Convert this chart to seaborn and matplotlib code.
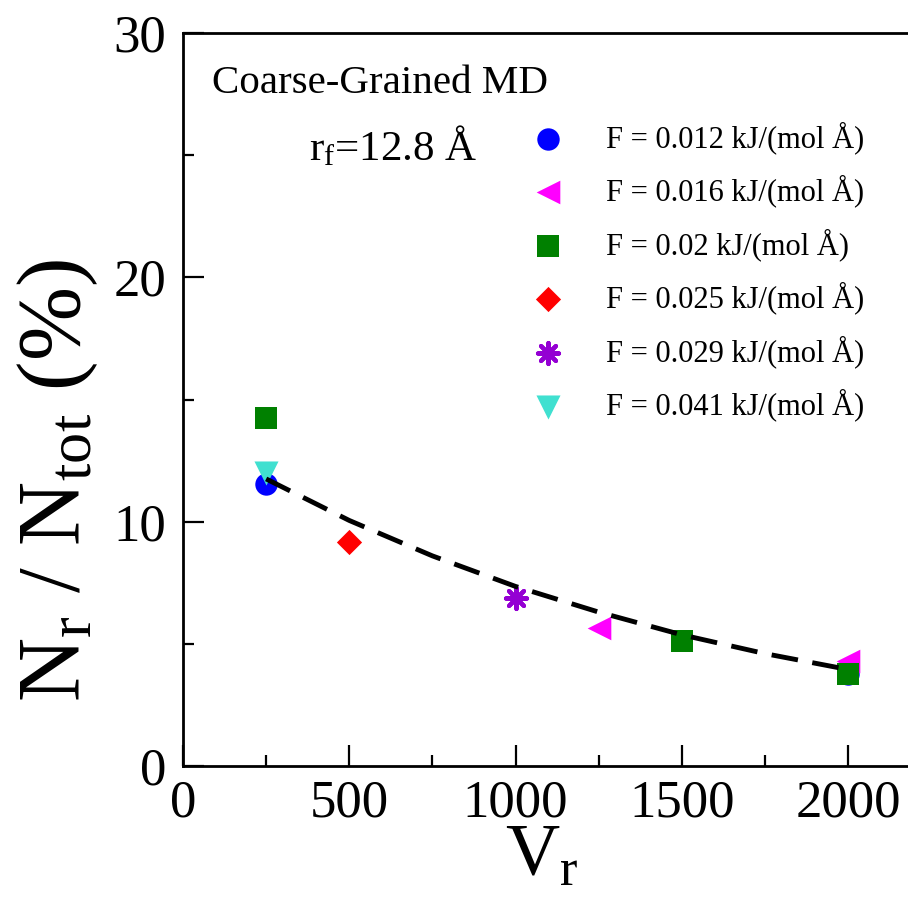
import matplotlib
matplotlib.use("Agg")
import matplotlib.pyplot as plt
import seaborn as sns
from matplotlib.ticker import MultipleLocator

# values
V_012 = [250, 2000]
N_012 = [11.55, 3.75]
V_016 = [1250, 2000]
N_016 = [5.65, 4.3]
V_020 = [250, 1500, 2000]
N_020 = [14.25, 5.1, 3.77]
V_025 = [500]
N_025 = [9.17]
V_029 = [1000]
N_029 = [6.88]
V_041 = [250]
N_041 = [12.0]

# dashed fit curve
fit_V = [250, 500, 750, 1000, 1250, 1500, 1750, 2000]
fit_N = [11.75, 10.05, 8.6, 7.35, 6.3, 5.37, 4.6, 3.95]

labels = ["F = 0.012 kJ/(mol Å)", "F = 0.016 kJ/(mol Å)", "F = 0.02 kJ/(mol Å)",
          "F = 0.025 kJ/(mol Å)", "F = 0.029 kJ/(mol Å)", "F = 0.041 kJ/(mol Å)"]

sns.set_style("ticks")
plt.rcParams["font.family"] = ["Liberation Serif", "DejaVu Serif"]
plt.rcParams["mathtext.fontset"] = "custom"
plt.rcParams["mathtext.rm"] = "Liberation Serif"
plt.rcParams["mathtext.it"] = "Liberation Serif:italic"
for key in ["text.color", "axes.labelcolor", "xtick.color", "ytick.color", "axes.edgecolor"]:
    plt.rcParams[key] = "black"

fig = plt.figure(figsize=(9.08, 9.15), dpi=100)
ax = fig.add_axes([183 / 908, 149 / 915, 731.5 / 908, 733 / 915])

# scatter series (one call per series so the asterisk can be a line marker)
sns.scatterplot(x=V_012, y=N_012, ax=ax, color="#0000ff", marker="o", s=260,
                linewidth=0, label=labels[0], zorder=3)
sns.scatterplot(x=V_016, y=N_016, ax=ax, color="#ff00ff", marker="<", s=290,
                linewidth=0, label=labels[1], zorder=3)
sns.scatterplot(x=V_020, y=N_020, ax=ax, color="#008000", marker="s", s=230,
                linewidth=0, label=labels[2], zorder=3)
sns.scatterplot(x=V_025, y=N_025, ax=ax, color="#ff0000", marker="D", s=165,
                linewidth=0, label=labels[3], zorder=3)
sns.scatterplot(x=V_029, y=N_029, ax=ax, color="#9400d3", marker=(8, 2, 0), s=230,
                linewidth=3, label=labels[4], zorder=3)
sns.scatterplot(x=V_041, y=N_041, ax=ax, color="#40e0d0", marker="v", s=300,
                linewidth=0, label=labels[5], zorder=3)

sns.lineplot(x=fit_V, y=fit_N, ax=ax, color="black", linewidth=3.5,
             dashes=False, zorder=4)
ax.lines[-1].set_dashes((5.5, 3))

ax.set_xlim(0, 2200)
ax.set_ylim(0, 30)
ax.xaxis.set_major_locator(MultipleLocator(500))
ax.xaxis.set_minor_locator(MultipleLocator(250))
ax.yaxis.set_major_locator(MultipleLocator(10))
ax.yaxis.set_minor_locator(MultipleLocator(5))
ax.tick_params(which="both", direction="in", width=1.6, labelsize=38)
ax.tick_params(which="major", length=15)
ax.tick_params(which="minor", length=8)
ax.tick_params(axis="x", pad=10)
ax.tick_params(axis="y", pad=12)
for side in ["left", "bottom", "top"]:
    ax.spines[side].set_linewidth(2)
ax.spines["right"].set_visible(False)

ax.set_xlabel(r"V$_\mathrm{r}$", fontsize=54)
ax.xaxis.set_label_coords(0.49, -0.08)
ax.set_ylabel(r"N$_\mathrm{r}$ / N$_\mathrm{tot}$ (%)", fontsize=64)
ax.yaxis.set_label_coords(-0.113, 0.39)

ax.text(0.04, 0.918, "Coarse-Grained MD", transform=ax.transAxes,
        fontsize=29.5, va="baseline", ha="left")
ax.text(0.172, 0.827, r"r$_\mathrm{f}$=12.8 Å", transform=ax.transAxes,
        fontsize=31, va="baseline", ha="left")

leg = ax.legend(loc="upper left", bbox_to_anchor=(0.478, 0.88), frameon=False,
                fontsize=22, handlelength=1.0, handletextpad=1.4,
                labelspacing=0.68, borderaxespad=0, borderpad=0)

fig.savefig("out.png", dpi=100)
